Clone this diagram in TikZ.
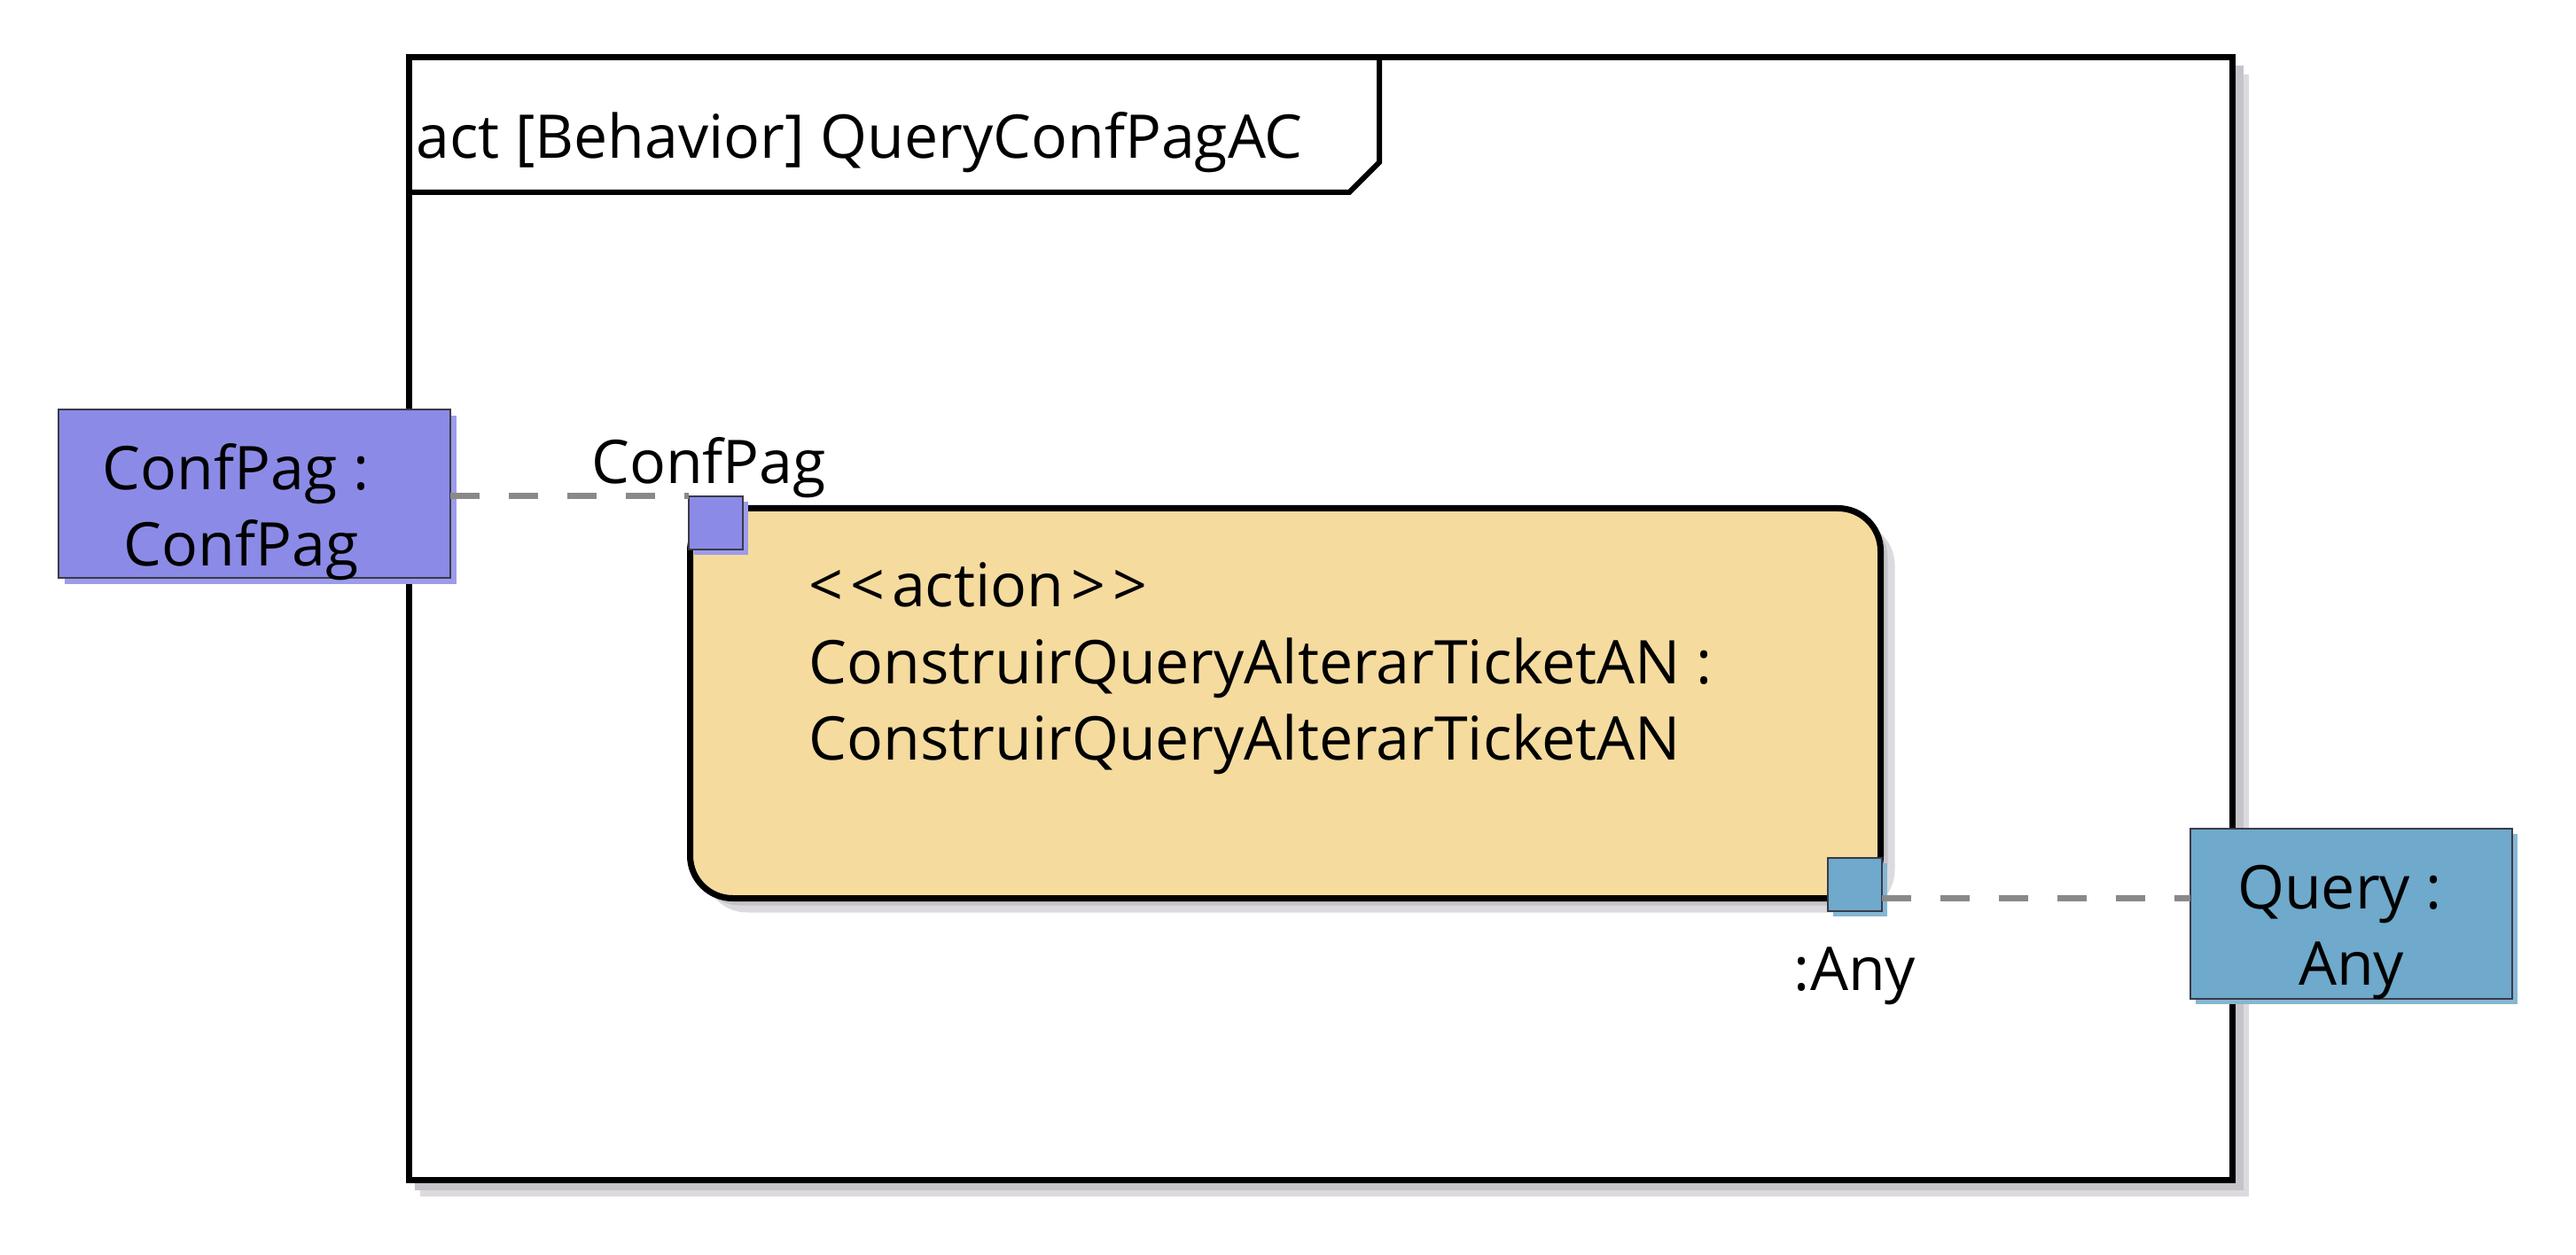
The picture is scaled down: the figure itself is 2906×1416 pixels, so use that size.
\documentclass[tikz,border=0pt]{standalone}
\usepackage{fontspec}
\setmainfont{Open Sans}
\usetikzlibrary{positioning,shadows}

\definecolor{umledge}{RGB}{58,58,72}
\definecolor{umldash}{RGB}{137,137,137}
\definecolor{umlshadowdark}{RGB}{198,196,201}
\definecolor{umlshadowlight}{RGB}{220,218,222}
\definecolor{umlactfill}{RGB}{245,219,158}
\definecolor{umlconffill}{RGB}{139,139,231}
\definecolor{umlqueryfill}{RGB}{111,169,203}

\begin{document}
\begin{tikzpicture}[
  % one unit is one pixel of the exported diagram, y grows downwards
  x=0.5pt, y=-0.5pt,
  lbl/.style={inner sep=0pt, font=\fontsize{34}{43}\selectfont},
  objbox/.style={draw=umledge, line width=1pt, inner sep=0pt, outer sep=0pt, anchor=north west},
  objtext/.style={lbl, align=center},
  pinbox/.style={draw=umledge, line width=1pt, inner sep=0pt, outer sep=0pt, anchor=north west,
    minimum width=61*\pxsz, minimum height=60*\pxsz},
  actbox/.style={draw=black, line width=3.5pt, rounded corners=24pt, anchor=north west,
    outer sep=0pt, fill=umlactfill, minimum width=1343*\pxsz, minimum height=440*\pxsz,
    drop shadow={shadow xshift=8pt, shadow yshift=-8pt, fill=umlshadowlight, opacity=1},
    drop shadow={shadow xshift=4pt, shadow yshift=-4pt, fill=umlshadowdark, opacity=1}},
  objflow/.style={draw=umldash, line width=3.5pt, dash pattern=on 16.5pt off 16.5pt},
]
\def\pxsz{0.5pt}
\useasboundingbox (0,0) rectangle (2906,1416);
% Frame shadow
\fill[umlshadowlight] (474,84) rectangle (2537,1350);
\fill[umlshadowdark] (468,74) rectangle (2531,1343);
% Frame
\draw[line width=3.5pt, fill=white] (461,65) rectangle (2518,1331);
% Name tab
\draw[line width=3pt] (461,217) -- (1522,217) -- (1556,183) -- (1556,65);
\node[lbl, anchor=base west] (frametitle) at (469,179) {act [Behavior] QueryConfPagAC};
% Action
\node[actbox] (act) at (778.5,573.5) {};
\node[lbl, anchor=base west] (actstereo) at (912,685)
  {<\kern4pt<\kern4pt action\kern4pt>\kern4pt>};
\node[lbl, anchor=base west] (actname) at (912,771) {ConstruirQueryAlterarTicketAN :};
\node[lbl, anchor=base west] (acttype) at (912,857) {ConstruirQueryAlterarTicketAN};
% Input pin and parameter
\fill[umlconffill!85!white] (783,566) rectangle (844,626);
\node[pinbox, fill=umlconffill] (confpin) at (777,560) {};
\node[lbl, above=-1pt of confpin, xshift=-4pt] (confpinlbl) {ConfPag};
\fill[umlconffill!85!white] (73,469) rectangle (515,659);
\node[objbox, fill=umlconffill, minimum width=442*\pxsz, minimum height=190*\pxsz]
  (confpar) at (66,462) {};
\node[objtext, xshift=-7.5pt, yshift=-10.5pt] (confpartxt) at (confpar.center)
  {ConfPag :\kern6pt\\ConfPag};
% Output pin and parameter
\fill[umlqueryfill!85!white] (2068,974) rectangle (2129,1034);
\node[pinbox, fill=umlqueryfill] (querypin) at (2062,968) {};
\node[lbl, below=20pt of querypin] (querypinlbl) {:Any};
\fill[umlqueryfill!85!white] (2477,941) rectangle (2840,1133);
\node[objbox, fill=umlqueryfill, minimum width=363*\pxsz, minimum height=192*\pxsz]
  (querypar) at (2471,935) {};
\node[objtext, yshift=-10.5pt] (querypartxt) at (querypar.center) {Query :\kern13pt\\Any};
% Object flows
\draw[objflow] (confpar.east |- confpin.north) -- (confpin.north west);
\draw[objflow] (querypin.east |- act.south) -- (querypar.west |- act.south);
\end{tikzpicture}
\end{document}
